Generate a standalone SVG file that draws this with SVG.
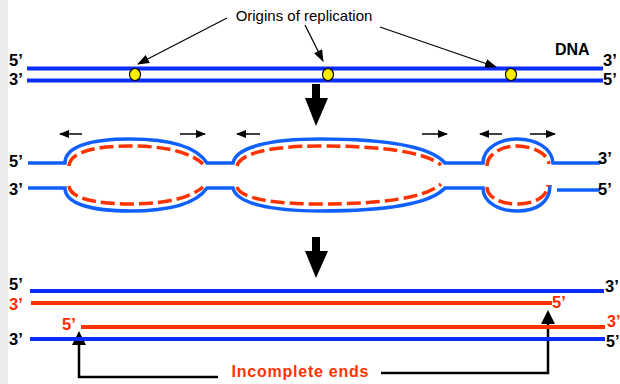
<svg xmlns="http://www.w3.org/2000/svg" width="620" height="384" viewBox="0 0 620 384">
<style>
  .lbl{font-family:"Liberation Sans",Arial,sans-serif;font-size:16.5px;font-weight:bold;fill:#000}
  .red{fill:#ff2a00}
  .blue{stroke:#0a2dff;stroke-width:4;fill:none}
  .rline{stroke:#ff3300;stroke-width:4;fill:none}
  .mblue{stroke:#1060ff;stroke-width:3.5;fill:none}
  .mred{stroke:#ff3300;stroke-width:3.5;fill:none;stroke-dasharray:14 5}
  .thin{stroke:#000;stroke-width:1.2;fill:none}
  .dir{stroke:#000;stroke-width:1.5;fill:none}
  .conn{stroke:#000;stroke-width:2.5;fill:none}
</style>
<defs>
  <marker id="ah" markerUnits="userSpaceOnUse" markerWidth="12" markerHeight="9" refX="11" refY="4.5" orient="auto">
    <path d="M0,0 L12,4.5 L0,9 z" fill="#000"/>
  </marker>
  <marker id="sh" markerUnits="userSpaceOnUse" markerWidth="10" markerHeight="8" refX="9" refY="4" orient="auto">
    <path d="M0,0 L10,4 L0,8 z" fill="#000"/>
  </marker>
</defs>
<rect x="0" y="0" width="620" height="384" fill="#fff"/>
<rect x="0" y="0" width="8" height="384" fill="#ececec"/>

<g id="top-dna">
  <line class="blue" x1="27" y1="68.5" x2="603" y2="68.5"/>
  <line class="blue" x1="27" y1="80.5" x2="603" y2="80.5"/>
  <ellipse cx="135" cy="74.5" rx="5.5" ry="6" fill="#ffee00" stroke="#000" stroke-width="1.2"/>
  <ellipse cx="328" cy="74.5" rx="5.5" ry="6" fill="#ffee00" stroke="#000" stroke-width="1.2"/>
  <ellipse cx="511" cy="74.5" rx="5.5" ry="6" fill="#ffee00" stroke="#000" stroke-width="1.2"/>
  <text class="lbl" x="9" y="66">5’</text>
  <text class="lbl" x="9" y="85">3’</text>
  <text class="lbl" x="603" y="66">3’</text>
  <text class="lbl" x="603" y="85">5’</text>
  <text class="lbl" x="555" y="55" style="font-size:16px">DNA</text>
</g>

<g id="origins-label">
  <text x="304" y="21" text-anchor="middle" style="font-family:'Liberation Sans',Arial,sans-serif;font-size:15px;fill:#000">Origins of replication</text>
</g>

<g id="connectors">
  <line class="thin" x1="227" y1="18" x2="138" y2="64" marker-end="url(#ah)"/>
  <line class="thin" x1="305" y1="25" x2="323" y2="61" marker-end="url(#ah)"/>
  <line class="thin" x1="380" y1="27" x2="496" y2="67" marker-end="url(#ah)"/>
  <polygon points="312,84 320,84 320,98 328,98 316,126 305,98 312,98" fill="#000"/>
  <polygon points="312,237 320,237 320,251 328,251 316,278 305,251 312,251" fill="#000"/>
  <line class="dir" x1="82" y1="134" x2="60" y2="134" marker-end="url(#sh)"/>
  <line class="dir" x1="180" y1="134" x2="205" y2="134" marker-end="url(#sh)"/>
  <line class="dir" x1="260" y1="134" x2="237" y2="134" marker-end="url(#sh)"/>
  <line class="dir" x1="422" y1="134" x2="447" y2="134" marker-end="url(#sh)"/>
  <line class="dir" x1="502" y1="134" x2="480" y2="134" marker-end="url(#sh)"/>
  <line class="dir" x1="530" y1="134" x2="555" y2="134" marker-end="url(#sh)"/>
  <polyline class="conn" points="218,377 79,377 79,344"/>
  <polygon points="72,345 86,345 79,331" fill="#000"/>
  <polyline class="conn" points="381,373 548,373 548,322"/>
  <polygon points="541,324 555,324 548,310" fill="#000"/>
</g>

<g id="replication-bubbles">
  <path class="mblue" d="M28,163 L65,163 C65,146 92,139 130,139 C168,139 196,146 207,163 L233,163 C236,147 270,139 320,139 C385,139 430,146 445,163 L483,163 C483,148 500,139 517,139 C536,139 552,148 553,163 L600,163"/>
  <path class="mblue" d="M28,188 L65,188 C65,204 92,211 130,211 C168,211 196,204 207,188 L233,188 C236,203 270,211 320,211 C385,211 430,204 445,188 L483,188 C483,203 500,211 517,211 C536,211 550,203 550,185"/>
  <line class="mblue" x1="557" y1="190" x2="600" y2="190"/>
  <path class="mred" d="M69,166 C70,152 95,146 130,146 C165,146 190,152 203,164"/>
  <path class="mred" d="M69,186 C70,198 95,204 130,204 C165,204 190,198 203,187"/>
  <path class="mred" d="M237,166 C240,153 272,146 320,146 C382,146 425,152 441,165"/>
  <path class="mred" d="M237,187 C240,198 272,204 320,204 C382,204 425,198 441,184"/>
  <path class="mred" d="M487,166 C487,154 502,146 517,146 C533,146 548,154 549,164"/>
  <path class="mred" d="M487,187 C487,198 502,204 517,204 C533,204 547,198 548,185"/>
  <text class="lbl" x="9" y="167">5’</text>
  <text class="lbl" x="9" y="195">3’</text>
  <text class="lbl" x="598" y="164">3’</text>
  <text class="lbl" x="598" y="195">5’</text>
</g>

<g id="daughter-dna">
  <line class="blue" x1="30" y1="291" x2="604" y2="291"/>
  <line class="rline" x1="31" y1="303" x2="552" y2="303"/>
  <line class="rline" x1="81" y1="327" x2="605" y2="327"/>
  <line class="blue" x1="30" y1="339" x2="605" y2="339"/>
  <text class="lbl" x="9" y="290">5’</text>
  <text class="lbl red" x="9" y="310">3’</text>
  <text class="lbl red" x="62" y="330">5’</text>
  <text class="lbl" x="9" y="345">3’</text>
  <text class="lbl" x="605" y="292">3’</text>
  <text class="lbl red" x="552" y="308">5’</text>
  <text class="lbl red" x="607" y="327" style="font-size:16px">3’</text>
  <text class="lbl" x="606" y="347" style="font-size:16px">5’</text>
</g>

<g id="incomplete-ends">
  <text x="300" y="377" text-anchor="middle" textLength="137" style="font-family:'Liberation Sans',Arial,sans-serif;font-size:16px;font-weight:bold;fill:#ff3300">Incomplete ends</text>
</g>
</svg>
